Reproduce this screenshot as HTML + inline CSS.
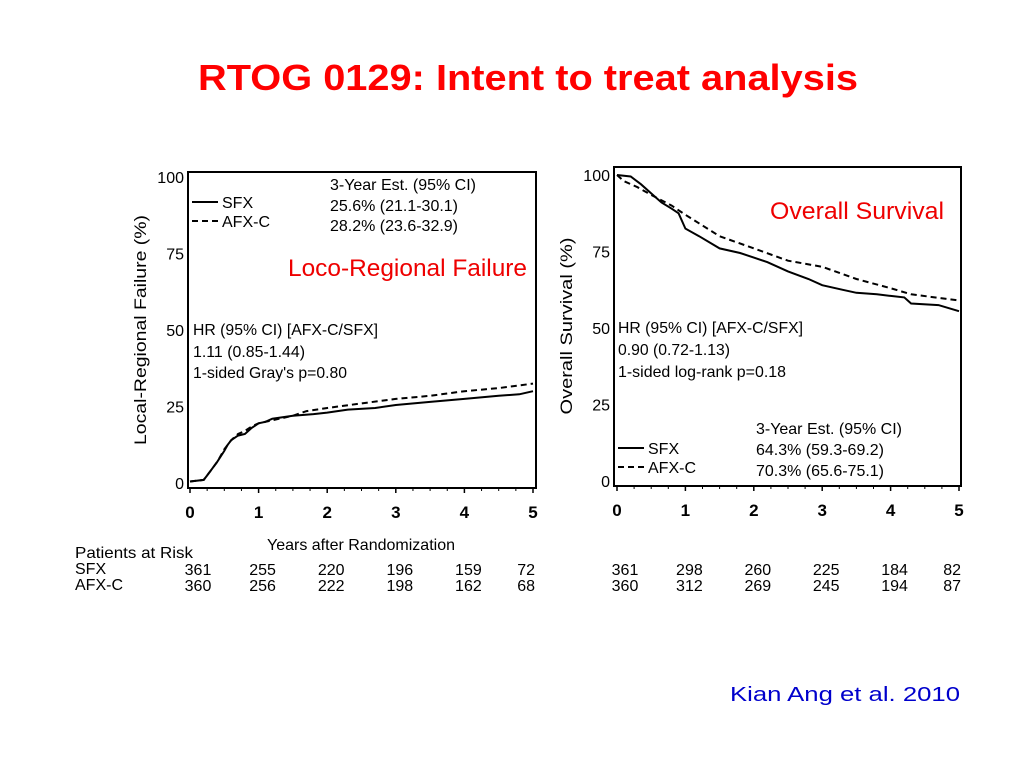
<!DOCTYPE html>
<html><head><meta charset="utf-8"><style>
html,body{margin:0;padding:0;background:#fff;width:1024px;height:768px;overflow:hidden}
svg{display:block;font-family:"Liberation Sans",Arial,sans-serif}
</style></head><body>
<svg id="s" width="1024" height="768" viewBox="0 0 1024 768">
<text x="198" y="90" font-size="36" font-weight="bold" fill="#f00" textLength="660" lengthAdjust="spacingAndGlyphs">RTOG 0129: Intent to treat analysis</text>
<text x="730" y="701" font-size="20" fill="#00c" textLength="230" lengthAdjust="spacingAndGlyphs">Kian Ang et al. 2010</text>
<g id="left"></g>
<g id="right"></g>
</svg>
<script>
// ---- data ----
const xTicks = [0,1,2,3,4,5];
const yTicks = [0,25,50,75,100];
const lrfSfxX = [0,0.2,0.25,0.3,0.4,0.5,0.55,0.6,0.7,0.8,0.9,1,1.1,1.2,1.5,1.8,2,2.3,2.7,3,3.5,4,4.5,4.8,5];
const lrfSfxY = [0.5,1,2.5,4,7,10.5,12.5,14,15.5,16,18,19.5,20,21,22,22.5,23,24,24.5,25.5,26.5,27.5,28.5,29,30];
const lrfAfxX = [0,0.2,0.3,0.4,0.5,0.6,0.7,0.8,0.9,1,1.2,1.5,1.7,2,2.5,3,3.5,4,4.5,5];
const lrfAfxY = [0.5,1,4,7,11,14,16,17,18.5,19.5,20.5,22,23.5,24.5,26,27.5,28.5,30,31,32.5];
const osSfxX = [0,0.2,0.35,0.5,0.65,0.8,0.9,1,1.2,1.5,1.8,2,2.2,2.5,2.8,3,3.3,3.5,3.8,4,4.2,4.3,4.7,5];
const osSfxY = [100,99.5,97,94,91,89,87.5,82.5,80,76,74.5,73,71.5,68.5,66,64,62.5,61.5,61,60.5,60,58,57.5,55.5];
const osAfxX = [0,0.1,0.3,0.5,0.8,1,1.5,2,2.5,3,3.5,4,4.3,5];
const osAfxY = [100,98,96,93.5,90,87,80,76,72,70,66,63,61,59];
const riskSfxL = [361,255,220,196,159,72];
const riskAfxL = [360,256,222,198,162,68];
const riskSfxR = [361,298,260,225,184,82];
const riskAfxR = [360,312,269,245,194,87];

const NS="http://www.w3.org/2000/svg";
function mk(parent,tag,attrs,text){const e=document.createElementNS(NS,tag);for(const k in attrs)e.setAttribute(k,attrs[k]);if(text!==undefined)e.textContent=text;parent.appendChild(e);return e;}

function chart(g,cfg){
  const sx=v=>cfg.x0+(cfg.x5-cfg.x0)*v/5;
  const sy=v=>cfg.y0+(cfg.y100-cfg.y0)*v/100;
  const fr=mk(g,'rect',{x:cfg.fl,y:cfg.ft,width:cfg.fr-cfg.fl,height:cfg.fb-cfg.ft,fill:'none',stroke:'#000','stroke-width':2});
  
  
  xTicks.forEach(t=>{
    const l=mk(g,'line',{x1:sx(t),x2:sx(t),y1:cfg.fb,y2:cfg.fb+5,stroke:'#000','stroke-width':1.5});
    
    
    const tx=mk(g,'text',{x:sx(t),y:cfg.fb+30,'font-size':17,'font-weight':'bold','text-anchor':'middle'},String(t));
    
    
  });
  for(let i=1;i<20;i++){ if(i%4===0) continue;
    mk(g,'line',{x1:sx(i/4),x2:sx(i/4),y1:cfg.fb,y2:cfg.fb+3,stroke:'#000','stroke-width':1});}
  yTicks.forEach(t=>{
    const tx=mk(g,'text',{x:cfg.fl-4,y:sy(t)+6,'font-size':16,'text-anchor':'end'},String(t));
    
    
  });
  const yt=mk(g,'text',{x:0,y:0,'font-size':17,'text-anchor':'middle',textLength:cfg.ytl,lengthAdjust:'spacingAndGlyphs',transform:`translate(${cfg.ytx},${cfg.ytc}) rotate(-90)`},cfg.ytitle);
  
  
  function line(xs,ys,dash,name){
    let d='';
    xs.forEach((x,i)=>{d+=(i?'L':'M')+sx(x).toFixed(1)+','+sy(ys[i]).toFixed(1);});
    const p=mk(g,'path',{d:d,fill:'none',stroke:'#000','stroke-width':2,'stroke-dasharray':dash||'none'});
    
    
  }
  line(cfg.sfxX,cfg.sfxY,null,'sfx-curve');
  line(cfg.afxX,cfg.afxY,'6,4','afx-c-curve');
  cfg.texts.forEach(t=>{
    const at={x:t[0],y:t[1],'font-size':t[3]||16,fill:t[4]||'#000'};
    if(t[6]){at.textLength=t[6];at.lengthAdjust='spacingAndGlyphs';}
    const e=mk(g,'text',at,t[2]);
    
    
  });
  const L=cfg.leg;
  mk(g,'line',{x1:L[0],x2:L[0]+26,y1:L[1],y2:L[1],stroke:'#000','stroke-width':2});
  mk(g,'line',{x1:L[0],x2:L[0]+26,y1:L[1]+19,y2:L[1]+19,stroke:'#000','stroke-width':2,'stroke-dasharray':'6,4'});
  const a=mk(g,'text',{x:L[0]+30,y:L[1]+6,'font-size':16},'SFX');
  
  
  const b=mk(g,'text',{x:L[0]+30,y:L[1]+25,'font-size':16},'AFX-C');
  
  
  cfg.risk.forEach((arr,r)=>arr.forEach((v,i)=>{
    const e=mk(g,'text',{x:sx(i)+(i===0?8:i===5?2:4),y:cfg.riskY+r*16,'font-size':16,'text-anchor':i===5?'end':'middle'},String(v));
    
    
  }));
}
chart(document.getElementById('left'),{fl:188,fr:536,ft:172,fb:488,x0:190,x5:533,y0:483,y100:177,ytx:146,ytc:330,ytl:230,
  ytitle:'Local-Regional Failure (%)',sfxX:lrfSfxX,sfxY:lrfSfxY,afxX:lrfAfxX,afxY:lrfAfxY,leg:[192,202],
  risk:[riskSfxL,riskAfxL],riskY:575,
  texts:[[330,190,'3-Year Est. (95% CI)',16,'#000','annotation',146],[330,211,'25.6% (21.1-30.1)',16,'#000','annotation',128],[330,231,'28.2% (23.6-32.9)',16,'#000','annotation',128],
   [288,276,'Loco-Regional Failure',24,'#e00','panel-title',239],
   [193,335,'HR (95% CI) [AFX-C/SFX]',16,'#000','annotation',185],[193,357,'1.11 (0.85-1.44)',16,'#000','annotation',112],[193,378,"1-sided Gray's p=0.80",16,'#000','annotation',154],
   [267,550,'Years after Randomization',16,'#000','x-axis-title',188],
   [75,558,'Patients at Risk',16,'#000','risk-table-title',118],[75,574,'SFX',16,'#000','risk-row-sfx'],[75,590,'AFX-C',16,'#000','risk-row-afx-c']]});
chart(document.getElementById('right'),{fl:614,fr:961,ft:167,fb:486,x0:617,x5:959,y0:481,y100:175,ytx:572,ytc:326,ytl:177,
  ytitle:'Overall Survival (%)',sfxX:osSfxX,sfxY:osSfxY,afxX:osAfxX,afxY:osAfxY,leg:[618,448],
  risk:[riskSfxR,riskAfxR],riskY:575,
  texts:[[770,219,'Overall Survival',24,'#e00','panel-title',174],
   [618,333,'HR (95% CI) [AFX-C/SFX]',16,'#000','annotation',185],[618,355,'0.90 (0.72-1.13)',16,'#000','annotation',112],[618,377,'1-sided log-rank p=0.18',16,'#000','annotation',168],
   [756,434,'3-Year Est. (95% CI)',16,'#000','annotation',146],[756,455,'64.3% (59.3-69.2)',16,'#000','annotation',128],[756,476,'70.3% (65.6-75.1)',16,'#000','annotation',128]]});
</script>
</body></html>
